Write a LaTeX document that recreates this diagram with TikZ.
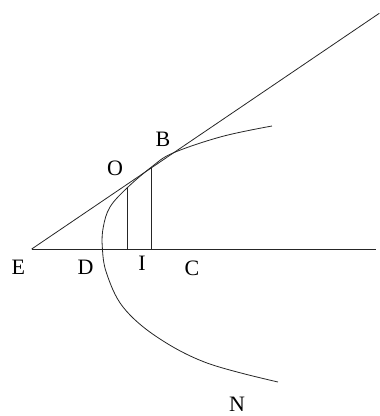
\documentclass[tikz,border=0pt]{standalone}
\usepackage{fontspec}
\setmainfont{Liberation Serif}
\begin{document}
\begin{tikzpicture}[x=1pt,y=-1pt,
  lbl/.style={inner sep=0pt, font=\fontsize{22}{22}\selectfont},
  ln/.style={line width=0.8pt, black!85}]
\useasboundingbox (0,0) rectangle (380,416);
% points
\coordinate (E) at (31.7,249);
\coordinate (Tend) at (379.3,13.3);
\coordinate (Hend) at (376,249);
\coordinate (Of) at (127,249);
\coordinate (Ot) at (127,188);
\coordinate (Bf) at (151.5,249);
\coordinate (Bt) at (151.5,167);
% lines
\draw[ln] (E) -- (Hend);
\draw[ln] (E) -- (Tend);
\draw[ln] (Of) -- (Ot);
\draw[ln] (Bf) -- (Bt);
% curve
\draw[ln] plot[smooth, tension=0.6] coordinates {(272,126) (222,136.5) (173,153) (151.5,167) (127,188) (110,207) (103.3,227) (102.3,247) (106.5,273) (123,307) (157,337) (207,363) (278,382)};
% labels
\node[lbl] (lE) at (18.3,267.5) {E};
\node[lbl] (lD) at (85.5,267) {D};
\node[lbl] (lI) at (142,263) {I};
\node[lbl] (lC) at (192,268) {C};
\node[lbl] (lO) at (115,168) {O};
\node[lbl] (lB) at (163,139) {B};
\node[lbl] (lN) at (237,404.5) {N};
\end{tikzpicture}
\end{document}
